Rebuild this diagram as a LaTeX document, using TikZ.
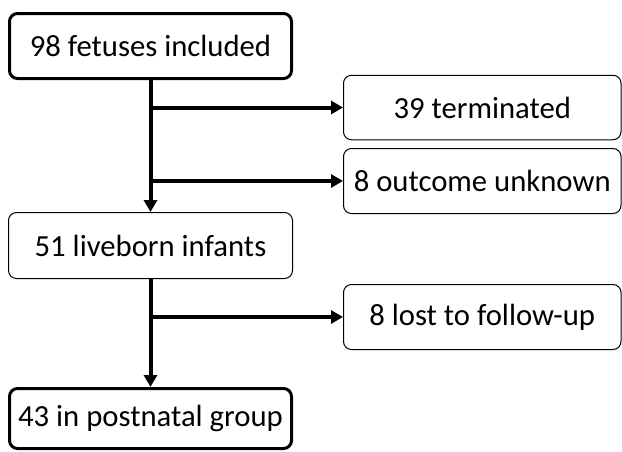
\documentclass[tikz,border=0pt]{standalone}
\usepackage{fontspec}
\setmainfont{Carlito}
\usetikzlibrary{arrows.meta}
\begin{document}
\begin{tikzpicture}
  [x=1pt,y=-1pt,every node/.style={draw,rounded corners=8pt,line width=1pt,inner sep=0pt,font=\fontsize{30.7}{36}\selectfont},
   bold/.style={line width=3pt},
   flow/.style={line width=4pt,-{Triangle[length=12pt,width=13pt]}}]
  \useasboundingbox (0,0) rectangle (622,451);
  \node[bold,minimum width=282pt,minimum height=65pt] (n1) at (150.5,46) {98 fetuses included};
  \node[minimum width=277.5pt,minimum height=64.5pt] (n2) at (482.25,107.5) {39 terminated};
  \node[minimum width=277.5pt,minimum height=65pt] (n4) at (482.25,181) {8 outcome unknown};
  \node[minimum width=284pt,minimum height=66pt] (n3) at (150.5,245.5) {51 liveborn infants};
  \node[minimum width=277.5pt,minimum height=65pt] (n5) at (482.25,317) {8 lost to follow-up};
  \node[bold,minimum width=282pt,minimum height=60pt] (n6) at (150.5,418.5) {43 in postnatal group};

  \foreach \from/\to in {n1/n3,n3/n6}
    \draw[flow] (\from.south) -- (\to.north);
  \foreach \from/\to in {n1/n2,n1/n4,n3/n5}
    \draw[flow] (\from.south |- \to.west) -- (\to.west);

\end{tikzpicture}
\end{document}
